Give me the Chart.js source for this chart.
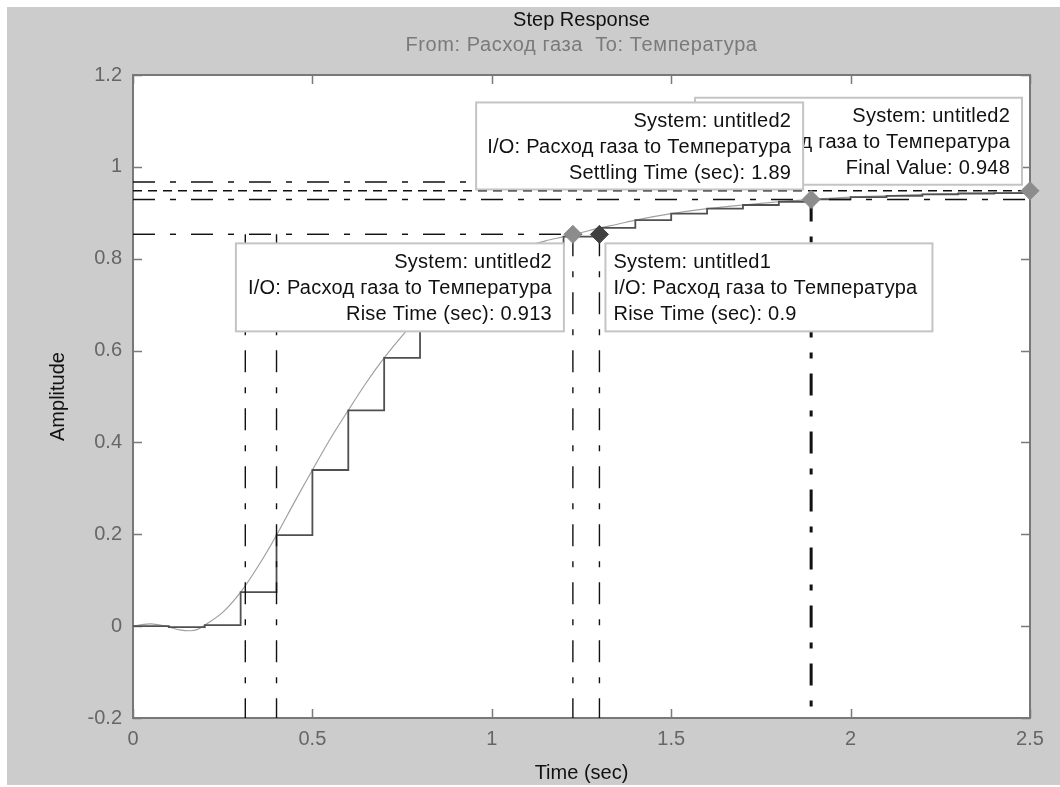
<!DOCTYPE html>
<html>
<head>
<meta charset="utf-8">
<script src="https://cdn.jsdelivr.net/npm/chart.js@4.4.1/dist/chart.umd.min.js"></script>
<style>
  html, body { margin: 0; padding: 0; background: #fff; }
  #wrap { width: 1060px; height: 787px; position: relative; }
</style>
</head>
<body>
<div id="wrap"><canvas id="c" width="1060" height="787"></canvas></div>
<script>
// Axis ticks
const xTicks = [0, 0.5, 1, 1.5, 2, 2.5];
const yTicks = [-0.2, 0, 0.2, 0.4, 0.6, 0.8, 1, 1.2];

// untitled2: continuous step response
const contT = [0, 0.03, 0.05, 0.08, 0.1, 0.13, 0.16, 0.18, 0.2, 0.25, 0.3, 0.35, 0.4, 0.45, 0.5, 0.55, 0.6, 0.65, 0.7, 0.75, 0.8, 0.85, 0.9, 0.95, 1.0, 1.05, 1.1, 1.15, 1.2, 1.226, 1.25, 1.3, 1.35, 1.4, 1.5, 1.6, 1.7, 1.8, 1.89, 1.9, 2.0, 2.1, 2.2, 2.3, 2.4, 2.5];
const contY = [0, 0.004, 0.005, 0.002, -0.002, -0.008, -0.01, -0.007, 0.002, 0.03, 0.074, 0.132, 0.198, 0.27, 0.34, 0.408, 0.47, 0.53, 0.584, 0.632, 0.675, 0.712, 0.745, 0.772, 0.795, 0.813, 0.828, 0.839, 0.848, 0.853, 0.857, 0.867, 0.875, 0.884, 0.898, 0.909, 0.917, 0.924, 0.929, 0.930, 0.934, 0.937, 0.940, 0.942, 0.943, 0.944];

// untitled1: sampled system, Ts = 0.1
const discT = [0, 0.1, 0.2, 0.3, 0.4, 0.5, 0.6, 0.7, 0.8, 0.9, 1.0, 1.1, 1.2, 1.3, 1.4, 1.5, 1.6, 1.7, 1.8, 1.9, 2.0, 2.1, 2.2, 2.3, 2.4, 2.5];
const discY = [0, -0.002, 0.002, 0.074, 0.198, 0.34, 0.47, 0.584, 0.675, 0.745, 0.795, 0.828, 0.848, 0.867, 0.884, 0.898, 0.909, 0.917, 0.924, 0.929, 0.934, 0.937, 0.940, 0.942, 0.943, 0.944];

// Response characteristics
const finalValue = 0.948;
const riseLevel = 0.853;          // 90 % of final value
const riseStart2 = 0.313, riseTime2 = 0.913;
const riseStart1 = 0.4, riseTime1 = 0.9;
const settlingTime = 1.89;
const settleLevel = 0.929;        // 98 % band
const settleUpper = 0.967;        // 102 % band

const FONT = '"Liberation Sans", Arial, sans-serif';
const yMin = yTicks[0], yMax = yTicks[yTicks.length - 1];
const xMin = xTicks[0], xMax = xTicks[xTicks.length - 1];

const pts = (xs, ys) => xs.map((x, i) => ({ x, y: ys[i] }));
const seg = (x0, y0, x1, y1) => [{ x: x0, y: y0 }, { x: x1, y: y1 }];

const DASHDOT = [22, 15, 6, 15];
const lineDs = (data, opts) => Object.assign({
  data, showLine: true, pointRadius: 0, borderColor: '#111', borderWidth: 1.4,
  borderDash: DASHDOT, fill: false, tension: 0
}, opts || {});

const rise2End = +(riseStart2 + riseTime2).toFixed(3);
const rise1End = +(riseStart1 + riseTime1).toFixed(3);

const datasets = [
  // markers
  { data: [{ x: rise2End, y: riseLevel }, { x: settlingTime, y: settleLevel }, { x: xMax, y: finalValue }],
    pointStyle: 'rectRot', pointRadius: 9, pointBackgroundColor: '#8c8c8c', pointBorderColor: '#8c8c8c',
    showLine: false, clip: false },
  { data: [{ x: rise1End, y: riseLevel }],
    pointStyle: 'rectRot', pointRadius: 9, pointBackgroundColor: '#404040', pointBorderColor: '#404040',
    showLine: false, clip: false },
  // rise-time guides
  lineDs(seg(xMin, riseLevel, rise2End, riseLevel)),
  lineDs(seg(xMin, riseLevel, rise1End, riseLevel)),
  lineDs(seg(riseStart2, riseLevel, riseStart2, yMin)),
  lineDs(seg(riseStart1, riseLevel, riseStart1, yMin)),
  lineDs(seg(rise2End, riseLevel, rise2End, yMin)),
  lineDs(seg(rise1End, riseLevel, rise1End, yMin)),
  // settling-time and final-value guides
  lineDs(seg(settlingTime, settleLevel, settlingTime, yMin), { borderWidth: 3 }),
  lineDs(seg(xMin, settleUpper, settlingTime, settleUpper)),
  lineDs(seg(xMin, finalValue, xMax, finalValue), { borderDash: [9, 6] }),
  lineDs(seg(xMin, settleLevel, xMax, settleLevel)),
  // responses
  { data: pts(discT, discY), showLine: true, stepped: 'before', pointRadius: 0,
    borderColor: '#505050', borderWidth: 1.8, fill: false },
  { data: pts(contT, contY), showLine: true, pointRadius: 0, tension: 0.3,
    borderColor: '#a0a0a0', borderWidth: 1.2, fill: false }
];

function drawBox(ctx, left, top, w, h, lines, align) {
  ctx.save();
  ctx.fillStyle = '#ffffff';
  ctx.fillRect(left, top, w, h);
  ctx.strokeStyle = '#c4c4c4';
  ctx.lineWidth = 2;
  ctx.strokeRect(left, top, w, h);
  ctx.fillStyle = '#111';
  ctx.font = '20px ' + FONT;
  ctx.letterSpacing = '0.25px';
  ctx.textBaseline = 'middle';
  ctx.textAlign = align;
  const tx = align === 'right' ? left + w - 12 : left + 8;
  lines.forEach((s, i) => ctx.fillText(s, tx, top + 19 + i * 26));
  ctx.restore();
}

const io = 'I/O: Расход газа to Температура';

const decor = {
  id: 'decor',
  beforeDraw(chart) {
    const { ctx, chartArea: a } = chart;
    ctx.save();
    ctx.fillStyle = '#ffffff';
    ctx.fillRect(0, 0, chart.width, chart.height);
    ctx.fillStyle = '#cccccc';
    ctx.fillRect(7, 7, chart.width - 7, chart.height - 9);
    ctx.fillStyle = '#ffffff';
    ctx.fillRect(a.left, a.top, a.right - a.left, a.bottom - a.top);
    ctx.restore();
  },
  beforeDatasetsDraw(chart) {
    const { ctx, chartArea: a, scales } = chart;
    ctx.save();
    ctx.strokeStyle = '#7a7a7a';
    ctx.lineWidth = 1.5;
    const tl = 9;
    ctx.beginPath();
    xTicks.forEach(v => {
      const x = Math.round(scales.x.getPixelForValue(v)) + 0.5;
      ctx.moveTo(x, a.bottom); ctx.lineTo(x, a.bottom - tl);
      ctx.moveTo(x, a.top); ctx.lineTo(x, a.top + tl);
    });
    yTicks.forEach(v => {
      const y = Math.round(scales.y.getPixelForValue(v)) + 0.5;
      ctx.moveTo(a.left, y); ctx.lineTo(a.left + tl, y);
      ctx.moveTo(a.right, y); ctx.lineTo(a.right - tl, y);
    });
    ctx.stroke();
    ctx.lineWidth = 2;
    ctx.strokeStyle = '#787878';
    ctx.strokeRect(a.left, a.top, a.right - a.left, a.bottom - a.top);
    ctx.restore();
  },
  afterDatasetsDraw(chart) {
    const { ctx, scales } = chart;
    const px = v => scales.x.getPixelForValue(v);
    const py = v => scales.y.getPixelForValue(v);
    // final value (partly under the settling box)
    drawBox(ctx, px(xMax) - 8 - 327, py(finalValue) - 6 - 87, 327, 87,
      ['System: untitled2', io, 'Final Value: ' + finalValue], 'right');
    drawBox(ctx, px(settlingTime) - 8 - 327, py(settleLevel) - 10 - 87, 327, 87,
      ['System: untitled2', io, 'Settling Time (sec): ' + settlingTime], 'right');
    drawBox(ctx, px(rise2End) - 9 - 328, py(riseLevel) + 9, 328, 88,
      ['System: untitled2', io, 'Rise Time (sec): ' + riseTime2], 'right');
    drawBox(ctx, px(rise1End) + 6, py(riseLevel) + 9, 327, 88,
      ['System: untitled1', io, 'Rise Time (sec): ' + riseTime1], 'left');
  },
  afterDraw(chart) {
    const { ctx, chartArea: a } = chart;
    const cx = (a.left + a.right) / 2;
    ctx.save();
    ctx.textAlign = 'center';
    ctx.textBaseline = 'alphabetic';
    ctx.font = '20px ' + FONT;
    ctx.fillStyle = '#111';
    ctx.fillText('Step Response', cx, 26);
    ctx.fillStyle = '#7a7a7a';
    ctx.font = '20px ' + FONT;
    ctx.letterSpacing = '0.6px';
    ctx.fillText('From: Расход газа  To: Температура', cx, 51);
    ctx.letterSpacing = '0px';
    ctx.fillStyle = '#111';
    ctx.font = '20px ' + FONT;
    ctx.textBaseline = 'middle';
    ctx.fillText('Time (sec)', cx, 773);
    ctx.translate(58, (a.top + a.bottom) / 2);
    ctx.rotate(-Math.PI / 2);
    ctx.fillText('Amplitude', 0, 0);
    ctx.restore();
  }
};

new Chart(document.getElementById('c'), {
  type: 'scatter',
  data: { datasets },
  options: {
    responsive: false,
    animation: false,
    devicePixelRatio: 1,
    layout: { padding: { left: 7, top: 75, right: 30, bottom: 0 } },
    plugins: { legend: { display: false }, tooltip: { enabled: false }, title: { display: false } },
    scales: {
      x: {
        type: 'linear', min: xMin, max: xMax,
        grid: { display: false }, border: { display: false },
        afterBuildTicks: s => { s.ticks = xTicks.map(v => ({ value: v })); },
        afterFit: s => { s.height = 69; },
        ticks: { color: '#666', font: { family: FONT, size: 20 }, padding: 1, maxRotation: 0, autoSkip: false,
          callback: v => String(v) }
      },
      y: {
        type: 'linear', min: yMin, max: yMax,
        grid: { display: false }, border: { display: false },
        afterBuildTicks: s => { s.ticks = yTicks.map(v => ({ value: v })); },
        afterFit: s => { s.width = 126; },
        ticks: { color: '#666', font: { family: FONT, size: 20 }, padding: 3, autoSkip: false,
          callback: v => String(+v.toFixed(1)) }
      }
    }
  },
  plugins: [decor]
});
</script>
</body>
</html>
